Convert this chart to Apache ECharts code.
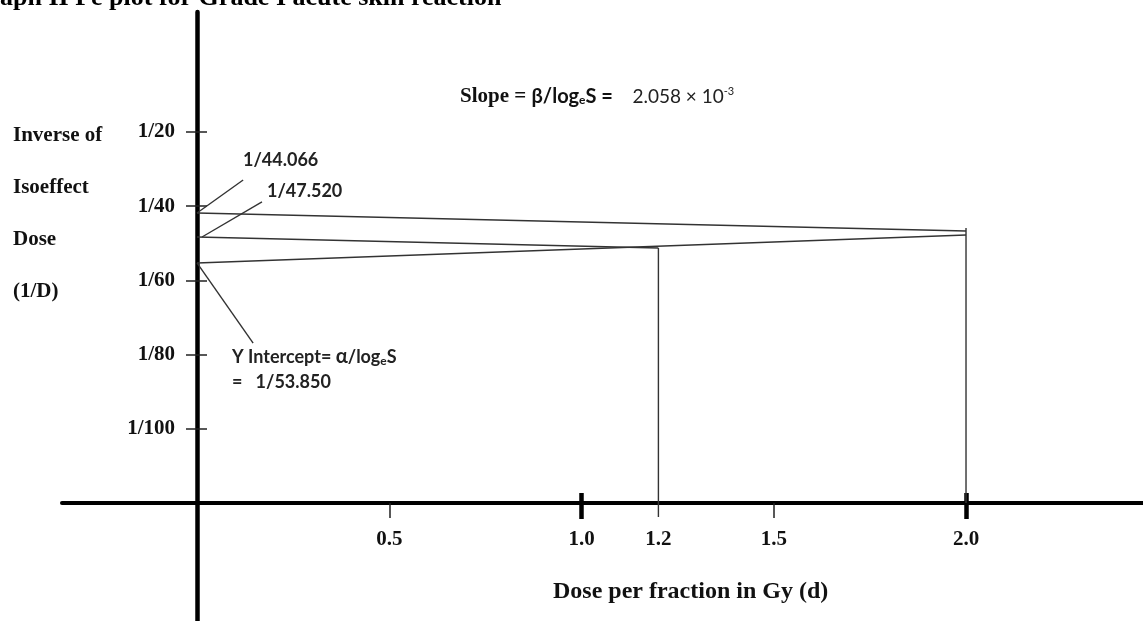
<!DOCTYPE html>
<html>
<head>
<meta charset="utf-8">
<script src="https://cdn.jsdelivr.net/npm/echarts@6/dist/echarts.min.js"></script>
<style>
  html, body { margin: 0; padding: 0; background: #fff; }
  #main { width: 1143px; height: 621px; }
</style>
</head>
<body>
<div id="main"></div>
<script>
// Fe plot, schematic: y axis is in "tick steps" (1/100 .. 1/20)
var doseLabels = [0.5, 1.0, 1.2, 1.5, 2.0];
var thinTicks = [0.5, 1.5];
var thickTicks = [1.0, 2.0];
var yTickPos = [1, 2, 3, 4, 5];
var yTickLabels = ['1/100', '1/80', '1/60', '1/40', '1/20'];

// lines (x = dose in Gy, y = tick steps)
var line44 = [[0, 3.908], [2.0, 3.666]];   // 1/44.066
var line47 = [[0, 3.585], [1.2, 3.437]];   // 1/47.520
var lineFe = [[0, 3.235], [2.0, 3.612]];   // intercept 1/53.850
var drop12 = [[1.2, 3.437], [1.2, -0.19]];
var drop20 = [[2.0, 3.706], [2.0, 0]];
var lead44 = [[0, 3.908], [0.12, 4.353]];
var lead47 = [[0.013, 3.585], [0.169, 4.057]];
var leadFe = [[0, 3.235], [0.146, 2.156]];

var serif = 'Liberation Serif';
var sans = 'Lato';
// quadrant grid (labels, ticks) and full grid (axis lines, marks)
var xMin = -0.3511, xMax = 2.4603;
var yMin = -1.590, yMax = 6.617;

var myChart = echarts.init(document.getElementById('main'));

function xAx(extra) {
    var a = {
        type: 'value', gridIndex: 0, min: 0, max: xMax, position: 'bottom',
        splitLine: {show: false},
        axisLine: {show: false, onZero: false},
        axisLabel: {show: false},
        axisTick: {show: false}
    };
    for (var k in extra) a[k] = extra[k];
    return a;
}
function yAx(extra) {
    var a = {
        type: 'value', gridIndex: 0, min: 0, max: yMax, position: 'left',
        splitLine: {show: false},
        axisLine: {show: false, onZero: false},
        axisLabel: {show: false},
        axisTick: {show: false}
    };
    for (var k in extra) a[k] = extra[k];
    return a;
}
function seg(data) {
    return {
        type: 'line', data: data, symbol: 'none', silent: true,
        xAxisIndex: 3, yAxisIndex: 2, clip: false,
        lineStyle: {color: '#333', width: 1.4}
    };
}

var option = {
    animation: false,
    backgroundColor: '#fff',
    title: {
        text: 'aph II Fe plot for Grade I acute skin reaction',
        left: 0, top: -15, padding: 0,
        textStyle: {fontFamily: serif, fontWeight: 'bold', fontSize: 26, color: '#000'}
    },
    grid: [
        {left: 197, right: 0, top: 12, bottom: 118, outerBoundsMode: 'none'},
        {left: 62, right: 0, top: 12, bottom: 0, outerBoundsMode: 'none'}
    ],
    xAxis: [
        xAx({
            axisTick: {show: true, customValues: thinTicks, length: 15, lineStyle: {color: '#222', width: 1.5}},
            axisLabel: {
                show: true, customValues: doseLabels, margin: 26,
                formatter: function (v) { return v.toFixed(1); },
                fontFamily: serif, fontWeight: 'bold', fontSize: 21, color: '#111'
            }
        }),
        xAx({axisTick: {show: true, customValues: thickTicks, length: 16, lineStyle: {color: '#000', width: 4.5}}}),
        xAx({axisTick: {show: true, inside: true, customValues: thickTicks, length: 10, lineStyle: {color: '#000', width: 4.5}}}),
        {
            type: 'value', gridIndex: 1, min: xMin, max: xMax,
            splitLine: {show: false}, axisTick: {show: false}, axisLabel: {show: false},
            axisLine: {show: true, onZero: true, lineStyle: {color: '#000', width: 4}}
        }
    ],
    yAxis: [
        yAx({
            axisTick: {show: true, customValues: yTickPos, length: 11, lineStyle: {color: '#222', width: 1.5}},
            axisLabel: {
                show: true, customValues: yTickPos, margin: 22,
                formatter: function (v) { return yTickLabels[Math.round(v) - 1]; },
                fontFamily: serif, fontWeight: 'bold', fontSize: 21, color: '#111'
            }
        }),
        yAx({axisTick: {show: true, inside: true, customValues: yTickPos, length: 10, lineStyle: {color: '#222', width: 1.5}}}),
        {
            type: 'value', gridIndex: 1, min: yMin, max: yMax,
            splitLine: {show: false}, axisTick: {show: false}, axisLabel: {show: false},
            axisLine: {show: true, onZero: true, lineStyle: {color: '#000', width: 4.5}}
        }
    ],
    graphic: [
        {
            type: 'text', left: 13, top: 109,
            style: {
                text: 'Inverse of\nIsoeffect\nDose\n(1/D)',
                fontFamily: serif, fontWeight: 'bold', fontSize: 21, lineHeight: 52.3, fill: '#111'
            }
        },
        {
            type: 'text', left: 553, top: 580,
            style: {text: 'Dose per fraction in Gy (d)', fontFamily: serif, fontWeight: 'bold', fontSize: 24, fill: '#111'}
        },
        {
            type: 'text', left: 243, top: 151,
            style: {text: '1/44.066', fontFamily: sans, fontWeight: 'bold', fontSize: 18, fill: '#222'}
        },
        {
            type: 'text', left: 267, top: 182,
            style: {text: '1/47.520', fontFamily: sans, fontWeight: 'bold', fontSize: 18, fill: '#222'}
        },
        {
            type: 'text', left: 232, top: 347,
            style: {
                text: '{t|Y Intercept= }{g|α}{t|/log}{s|e}{t|S}\n{t|=   1/53.850}',
                rich: {
                    t: {fontFamily: sans, fontWeight: 'bold', fontSize: 18, lineHeight: 25, fill: '#222'},
                    g: {fontFamily: sans, fontWeight: 'bold', fontSize: 20, lineHeight: 25, fill: '#222'},
                    s: {fontFamily: sans, fontWeight: 'bold', fontSize: 12, lineHeight: 25, padding: [8, 0, 0, 0], fill: '#222'}
                }
            }
        },
        {
            type: 'text', left: 460, top: 86,
            style: {
                text: '{a|Slope = }{b|β/log}{s|e}{b|S = }{c|   2.058 × 10}{p|-3}',
                rich: {
                    a: {fontFamily: serif, fontWeight: 'bold', fontSize: 21, lineHeight: 24, fill: '#111'},
                    b: {fontFamily: sans, fontWeight: 'bold', fontSize: 20, lineHeight: 24, fill: '#111'},
                    s: {fontFamily: sans, fontWeight: 'bold', fontSize: 12, lineHeight: 24, padding: [8, 0, 0, 0], fill: '#111'},
                    c: {fontFamily: sans, fontSize: 19, lineHeight: 24, fill: '#222'},
                    p: {fontFamily: sans, fontSize: 11, lineHeight: 24, padding: [0, 0, 10, 0], fill: '#222'}
                }
            }
        }
    ],
    series: [
        seg(line44), seg(line47), seg(lineFe),
        seg(drop12), seg(drop20),
        seg(lead44), seg(lead47), seg(leadFe)
    ]
};

myChart.setOption(option);
</script>
</body>
</html>
